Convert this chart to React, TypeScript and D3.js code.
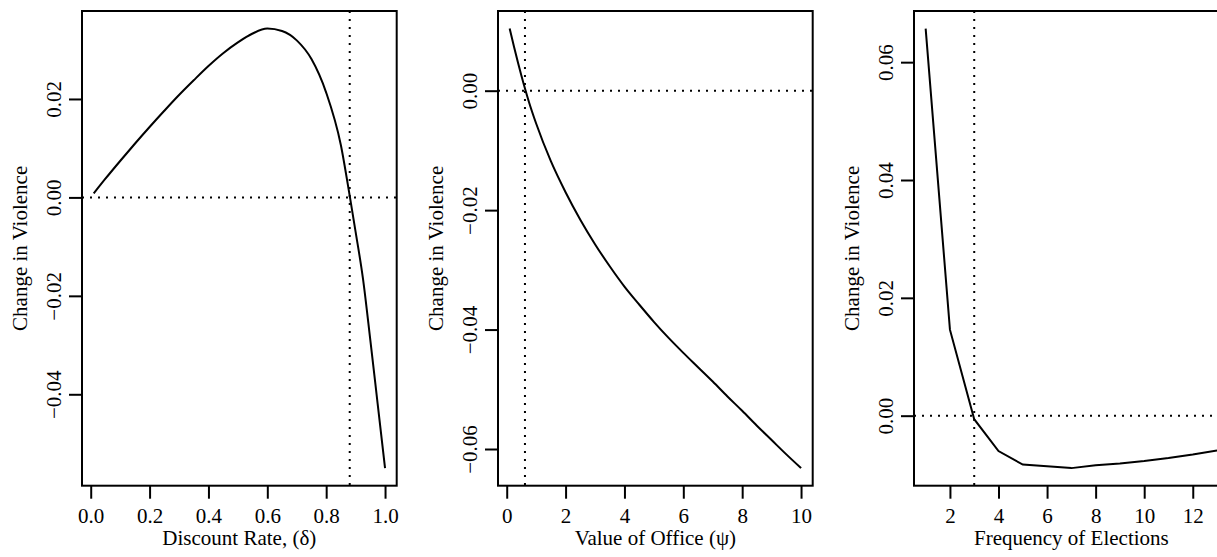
import React, { useEffect, useRef } from 'react'
import * as d3 from 'd3'

// panel 1: discount rate
const deltaX = [0.01, 0.05, 0.1, 0.15, 0.2, 0.25, 0.3, 0.35, 0.4, 0.45, 0.5, 0.55, 0.6, 0.65, 0.7, 0.75, 0.8, 0.85, 0.88, 0.9, 0.925, 0.95, 0.975, 1.0]
const deltaY = [0.0008, 0.0038, 0.0074, 0.0109, 0.0143, 0.0176, 0.0208, 0.0238, 0.0267, 0.0293, 0.0315, 0.0333, 0.0343, 0.0338, 0.0319, 0.0281, 0.0213, 0.0106, 0.0003, -0.007, -0.0165, -0.029, -0.042, -0.055]

// panel 2: value of office
const psiX = [0.1, 0.25, 0.5, 0.75, 1, 1.5, 2, 2.5, 3, 3.5, 4, 4.5, 5, 5.5, 6, 6.5, 7, 7.5, 8, 8.5, 9, 9.5, 10]
const psiY = [0.0104, 0.0073, 0.0025, -0.0018, -0.0055, -0.0118, -0.017, -0.0216, -0.0257, -0.0294, -0.0328, -0.0358, -0.0387, -0.0414, -0.0439, -0.0463, -0.0487, -0.0512, -0.0536, -0.0561, -0.0585, -0.0609, -0.0632]

// panel 3: frequency of elections
const freqX = [1, 2, 3, 4, 5, 6, 7, 8, 9, 10, 11, 12, 13]
const freqY = [0.0657, 0.0146, -0.0006, -0.006, -0.0083, -0.0086, -0.0089, -0.0084, -0.0081, -0.0077, -0.0072, -0.0066, -0.0059]

const xTicks1 = [0, 0.2, 0.4, 0.6, 0.8, 1.0]
const yTicks1 = [-0.04, -0.02, 0, 0.02]
const xTicks2 = [0, 2, 4, 6, 8, 10]
const yTicks2 = [-0.06, -0.04, -0.02, 0]
const xTicks3 = [2, 4, 6, 8, 10, 12]
const yTicks3 = [0, 0.02, 0.04, 0.06]

const xLabels = ['Discount Rate, (δ)', 'Value of Office (ψ)', 'Frequency of Elections']
const yLabel = 'Change in Violence'
const vLines = [0.88, 0.62, 3]

const W = 1217, H = 557
const panelW = 416
const plotL = 82, plotR = 396.7, plotT = 11, plotB = 485.7
const font = 'Liberation Serif'
const fontSize = 21

// R style: pad 4% each side
function rRange(v: number[]): [number, number] {
  const [lo, hi] = d3.extent(v) as [number, number]
  const p = (hi - lo) * 0.04
  return [lo - p, hi + p]
}

export default function App() {
  const ref = useRef<SVGSVGElement>(null)

  useEffect(() => {
    const svg = d3.select(ref.current)
    svg.selectAll('*').remove()

    const panels = [
      { xs: deltaX, ys: deltaY, xt: xTicks1, yt: yTicks1, xf: d3.format('.1f') },
      { xs: psiX, ys: psiY, xt: xTicks2, yt: yTicks2, xf: d3.format('d') },
      { xs: freqX, ys: freqY, xt: xTicks3, yt: yTicks3, xf: d3.format('d') },
    ]

    panels.forEach((p, i) => {
      const g = svg.append('g').attr('transform', `translate(${i * panelW},0)`)
      const x = d3.scaleLinear().domain(rRange(p.xs)).range([plotL, plotR])
      const y = d3.scaleLinear().domain(rRange(p.ys)).range([plotB, plotT])

      // dotted reference lines
      g.append('line')
        .attr('x1', plotL).attr('x2', plotR)
        .attr('y1', y(0)).attr('y2', y(0))
        .attr('stroke', '#000').attr('stroke-width', 2)
        .attr('stroke-dasharray', '2,6')
      g.append('line')
        .attr('x1', x(vLines[i])).attr('x2', x(vLines[i]))
        .attr('y1', plotT).attr('y2', plotB)
        .attr('stroke', '#000').attr('stroke-width', 2)
        .attr('stroke-dasharray', '2,6')

      const line = d3.line<number>()
        .x((d, k) => x(p.xs[k]))
        .y(d => y(d))
        .curve(i === 2 ? d3.curveLinear : d3.curveMonotoneX)
      g.append('path')
        .attr('d', line(p.ys))
        .attr('fill', 'none')
        .attr('stroke', '#000')
        .attr('stroke-width', 2)

      // box
      g.append('rect')
        .attr('x', plotL).attr('y', plotT)
        .attr('width', plotR - plotL).attr('height', plotB - plotT)
        .attr('fill', 'none').attr('stroke', '#000').attr('stroke-width', 2)

      // x axis
      const xa = g.append('g').attr('transform', `translate(0,${plotB})`)
        .call(d3.axisBottom(x).tickValues(p.xt).tickFormat(p.xf as any).tickSize(13).tickSizeOuter(0))
      xa.attr('font-family', font).attr('font-size', fontSize)
      xa.select('.domain').remove()
      xa.selectAll('line').attr('stroke-width', 2)
      xa.selectAll('text')
        .attr('y', 37).attr('dy', 0)
        .attr('font-family', font).attr('font-size', fontSize).attr('fill', '#000')

      // y axis
      const ya = g.append('g').attr('transform', `translate(${plotL},0)`)
        .call(d3.axisLeft(y).tickValues(p.yt).tickFormat(d3.format('.2f') as any).tickSize(13).tickSizeOuter(0))
      ya.attr('font-family', font).attr('font-size', fontSize)
      ya.select('.domain').remove()
      ya.selectAll('line').attr('stroke-width', 2)
      ya.selectAll('text')
        .attr('x', null).attr('dy', 0)
        .attr('transform', 'translate(-21,0) rotate(-90)')
        .attr('text-anchor', 'middle')
        .attr('font-family', font).attr('font-size', fontSize).attr('fill', '#000')

      // titles
      g.append('text')
        .attr('x', (plotL + plotR) / 2).attr('y', 545)
        .attr('text-anchor', 'middle')
        .attr('font-family', font).attr('font-size', fontSize)
        .text(xLabels[i])
      g.append('text')
        .attr('transform', `translate(${plotL - 55},${(plotT + plotB) / 2}) rotate(-90)`)
        .attr('text-anchor', 'middle')
        .attr('font-family', font).attr('font-size', fontSize)
        .text(yLabel)
    })
  }, [])

  return (
    <svg ref={ref} width={W} height={H} fontFamily={font}
      style={{ position: 'absolute', left: 0, top: 0, background: '#fff' }} />
  )
}
